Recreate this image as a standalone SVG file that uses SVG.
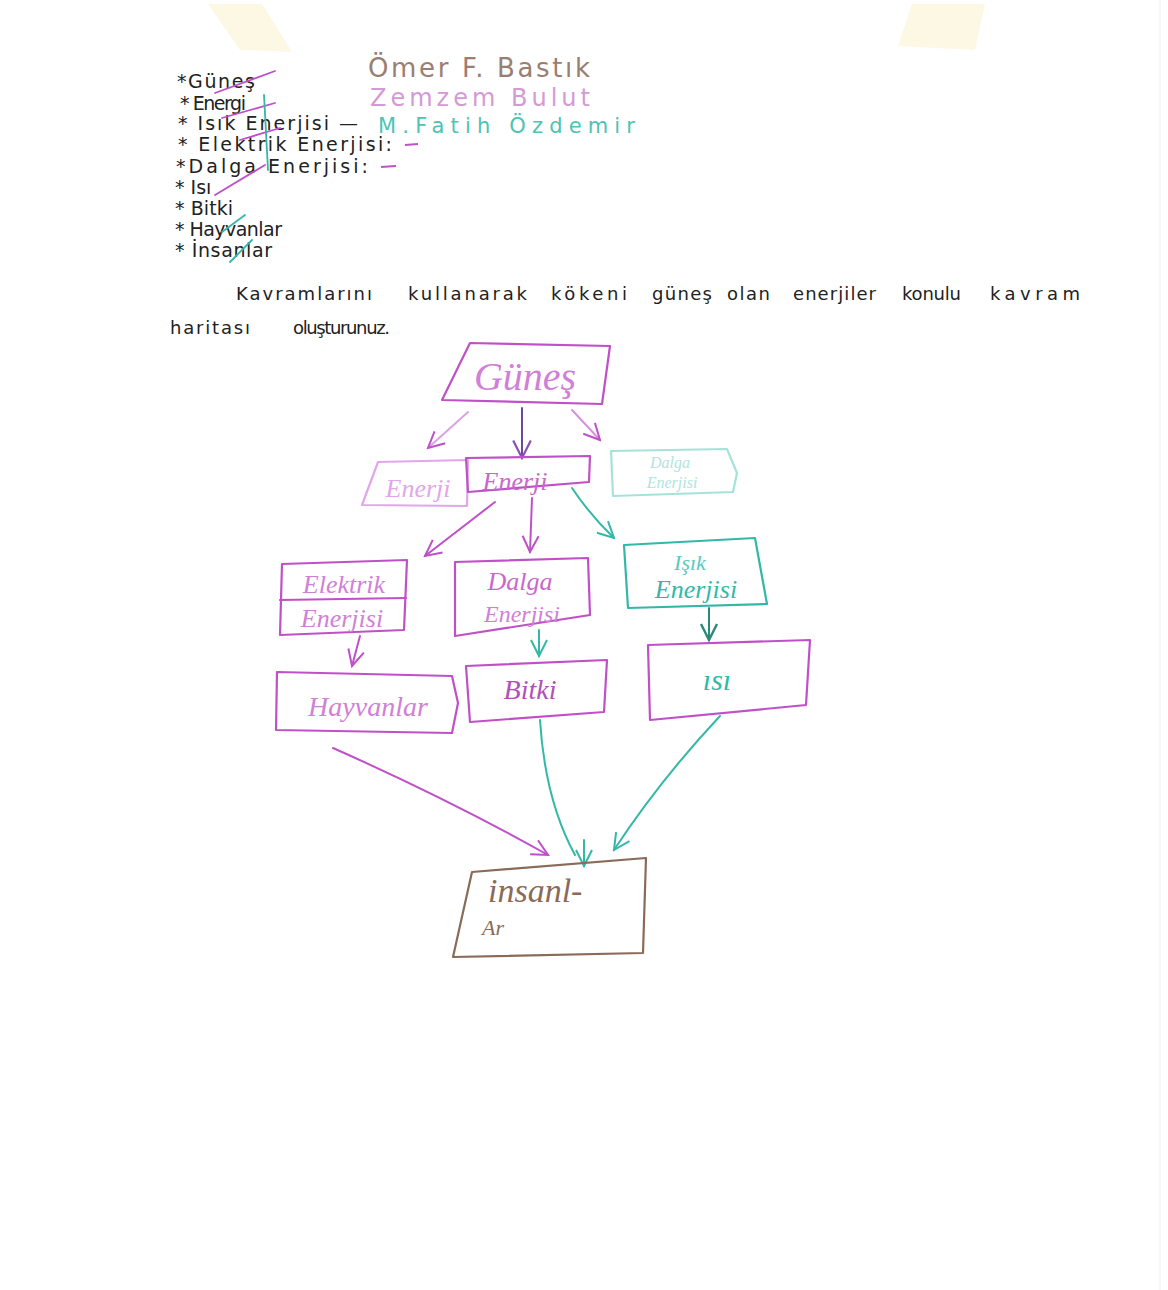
<svg xmlns="http://www.w3.org/2000/svg" width="1168" height="1290" viewBox="0 0 1168 1290">
<style>
.hw{font-family:"DejaVu Sans","Liberation Sans",sans-serif;fill:#222}
.list{font-size:19px}
.ins{font-size:18px}
.box{fill:none;stroke-width:2.2;stroke-linejoin:round;stroke-linecap:round}
.pk{stroke:#c050c8}
.pkf{stroke:#e2a6ea}
.tl{stroke:#33b8a8}
.tlf{stroke:#a6e2da}
.br{stroke:#8a6a58}
.lbl{font-family:"Liberation Serif","DejaVu Serif",serif;font-style:italic;text-anchor:middle}
.cn{fill:none;stroke-width:2;stroke-linecap:round}
</style>
<defs>
<marker id="aPk" viewBox="0 0 20 20" refX="18" refY="10" markerWidth="20" markerHeight="20" markerUnits="userSpaceOnUse" orient="auto"><path d="M2,2 L18,10 L2,18" fill="none" stroke="#c050c8" stroke-width="2"/></marker>
<marker id="aTl" viewBox="0 0 20 20" refX="18" refY="10" markerWidth="20" markerHeight="20" markerUnits="userSpaceOnUse" orient="auto"><path d="M2,2 L18,10 L2,18" fill="none" stroke="#33b8a8" stroke-width="2"/></marker>
<marker id="aDk" viewBox="0 0 20 20" refX="18" refY="10" markerWidth="22" markerHeight="22" markerUnits="userSpaceOnUse" orient="auto"><path d="M2,2 L18,10 L2,18" fill="none" stroke="#8a50b8" stroke-width="2"/></marker>
<marker id="aTd" viewBox="0 0 20 20" refX="18" refY="10" markerWidth="20" markerHeight="20" markerUnits="userSpaceOnUse" orient="auto"><path d="M2,2 L18,10 L2,18" fill="none" stroke="#2a8a78" stroke-width="2.4"/></marker>
</defs>
<rect width="1168" height="1290" fill="#ffffff"/>
<!-- tape pieces -->
<polygon points="208,4 262,4 292,52 240,50" fill="#fbf6dc" opacity="0.8"/>
<polygon points="912,4 985,4 975,50 898,46" fill="#fbf6dc" opacity="0.8"/>
<line x1="1160" y1="0" x2="1160" y2="1290" stroke="#eeeeee" stroke-width="1"/>

<!-- list -->
<g id="list">
<text class="hw list" x="177" y="88" textLength="78" lengthAdjust="spacing">*Güneş</text>
<text class="hw list" x="180" y="110" textLength="66" lengthAdjust="spacing">* Energi</text>
<text class="hw list" x="178" y="130" textLength="180" lengthAdjust="spacing">* Isık Enerjisi —</text>
<text class="hw list" x="178" y="151" textLength="214" lengthAdjust="spacing">* Elektrik Enerjisi:</text>
<text class="hw list" x="176" y="173" textLength="192" lengthAdjust="spacing">*Dalga Enerjisi:</text>
<text class="hw list" x="175" y="194">* Isı</text>
<text class="hw list" x="175" y="215" textLength="58" lengthAdjust="spacing">* Bitki</text>
<text class="hw list" x="175" y="236" textLength="107" lengthAdjust="spacing">* Hayvanlar</text>
<text class="hw list" x="175" y="257" textLength="97" lengthAdjust="spacing">* İnsanlar</text>
<path d="M405,145 L418,144" stroke="#c050c8" stroke-width="2" fill="none"/>
<path d="M381,167 L396,166" stroke="#c050c8" stroke-width="2" fill="none"/>
<g fill="none" stroke-width="1.8" stroke-linecap="round">
<path d="M215,93 L275,71" stroke="#c050c8"/>
<path d="M222,118 L275,103" stroke="#c050c8"/>
<path d="M240,140 L280,128" stroke="#c050c8"/>
<path d="M215,195 L265,165" stroke="#c050c8"/>
<path d="M264,95 L268,170" stroke="#33b8a8"/>
<path d="M222,232 L245,215" stroke="#33b8a8"/>
<path d="M230,262 L252,240" stroke="#33b8a8"/>
</g>
</g>

<!-- names -->
<g id="names" font-family="DejaVu Sans, Liberation Sans, sans-serif">
<text x="368" y="77" font-size="26" fill="#9a7e72" textLength="222" lengthAdjust="spacing">Ömer F. Bastık</text>
<text x="370" y="106" font-size="24" fill="#d49ad6" textLength="220" lengthAdjust="spacing">Zemzem Bulut</text>
<text x="378" y="133" font-size="21" fill="#4cc4b4" textLength="257" lengthAdjust="spacing">M.Fatih  Özdemir</text>
</g>

<!-- instruction -->
<g id="instruction" class="hw ins">
<text x="236" y="300" textLength="136" lengthAdjust="spacing">Kavramlarını</text>
<text x="408" y="300" textLength="119" lengthAdjust="spacing">kullanarak</text>
<text x="551" y="300" textLength="76" lengthAdjust="spacing">kökeni</text>
<text x="652" y="300" textLength="60" lengthAdjust="spacing">güneş</text>
<text x="727" y="300" textLength="43" lengthAdjust="spacing">olan</text>
<text x="793" y="300" textLength="83" lengthAdjust="spacing">enerjiler</text>
<text x="902" y="300" textLength="59" lengthAdjust="spacing">konulu</text>
<text x="990" y="300" textLength="90" lengthAdjust="spacing">kavram</text>
<text x="170" y="334" textLength="80" lengthAdjust="spacing">haritası</text>
<text x="293" y="334" textLength="97" lengthAdjust="spacing">oluşturunuz.</text>
</g>

<!-- connectors -->
<g id="connectors">
<path class="cn" d="M468,412 L428,448" stroke="#e0a0e6" marker-end="url(#aPk)"/>
<path class="cn" d="M522,408 L522,458" stroke="#6a4aa0" marker-end="url(#aDk)"/>
<path class="cn" d="M572,410 L600,440" stroke="#d890de" marker-end="url(#aPk)"/>
<path class="cn" d="M495,502 L425,556" stroke="#c050c8" marker-end="url(#aPk)"/>
<path class="cn" d="M532,498 L530,552" stroke="#c050c8" marker-end="url(#aPk)"/>
<path class="cn" d="M572,488 Q590,515 614,538" stroke="#33b8a8" marker-end="url(#aTl)"/>
<path class="cn" d="M360,636 L352,666" stroke="#c050c8" marker-end="url(#aPk)"/>
<path class="cn" d="M539,630 L539,656" stroke="#33b8a8" marker-end="url(#aTl)"/>
<path class="cn" d="M709,608 L709,640" stroke="#2a8a78" marker-end="url(#aTd)"/>
<path class="cn" d="M333,748 Q450,800 548,855" stroke="#c050c8" marker-end="url(#aPk)"/>
<path class="cn" d="M540,720 Q545,800 575,855" stroke="#33b8a8"/>
<path class="cn" d="M584,840 L584,866" stroke="#33b8a8" marker-end="url(#aTl)"/>
<path class="cn" d="M720,716 Q660,780 614,850" stroke="#33b8a8" marker-end="url(#aTl)"/>
</g>

<!-- nodes -->
<g id="gunes">
<path class="box pk" d="M470,343 L610,346 L602,404 L442,400 Z"/>
<text class="lbl" x="525" y="390" font-size="40" fill="#d080d8">Güneş</text>
</g>
<g id="enerji1">
<path class="box pkf" d="M378,462 L468,460 L467,506 L362,505 Z"/>
<text class="lbl" x="418" y="497" font-size="26" fill="#e2a6ea">Enerji</text>
</g>
<g id="enerji2">
<path class="box pk" d="M466,458 L590,456 L589,482 L468,492 Z"/>
<text class="lbl" x="515" y="490" font-size="26" fill="#c868cc">Enerji</text>
</g>
<g id="dalga1">
<path class="box tlf" d="M611,451 L727,449 L737,473 L733,492 L613,496 Z"/>
<text class="lbl" x="670" y="468" font-size="16" fill="#b0e4de">Dalga</text>
<text class="lbl" x="672" y="488" font-size="16" fill="#b0e4de">Enerjisi</text>
</g>
<g id="elektrik">
<path class="box pk" d="M282,564 L407,560 L404,630 L280,635 Z"/>
<path class="box pk" d="M280,600 L406,598" stroke-width="1.4"/>
<text class="lbl" x="344" y="593" font-size="26" fill="#d080d8">Elektrik</text>
<text class="lbl" x="342" y="627" font-size="26" fill="#d080d8">Enerjisi</text>
</g>
<g id="dalga">
<path class="box pk" d="M455,562 L588,558 L590,615 L455,636 Z"/>
<text class="lbl" x="520" y="590" font-size="26" fill="#c868cc">Dalga</text>
<text class="lbl" x="522" y="622" font-size="24" fill="#d080d8">Enerjisi</text>
</g>
<g id="isik">
<path class="box tl" d="M624,545 L755,538 L767,604 L628,608 Z"/>
<text class="lbl" x="690" y="570" font-size="22" fill="#5ccabc">Işık</text>
<text class="lbl" x="696" y="598" font-size="26" fill="#33b8a8">Enerjisi</text>
</g>
<g id="hayvanlar">
<path class="box pk" d="M277,672 L452,676 L458,703 L452,733 L276,730 Z"/>
<text class="lbl" x="368" y="716" font-size="28" fill="#d080d8">Hayvanlar</text>
</g>
<g id="bitki">
<path class="box pk" d="M466,666 L607,660 L604,712 L470,722 Z"/>
<text class="lbl" x="530" y="699" font-size="28" fill="#b050bc">Bitki</text>
</g>
<g id="isi">
<path class="box pk" d="M648,645 L810,640 L806,705 L650,720 Z"/>
<text class="lbl" x="717" y="690" font-size="30" fill="#33b8a8">ısı</text>
</g>
<g id="insanlar">
<path class="box br" d="M472,872 L646,858 L643,953 L453,957 Z"/>
<text x="488" y="902" font-family="Liberation Serif, DejaVu Serif, serif" font-style="italic" font-size="34" fill="#8a6a58">insanl-</text>
<text x="482" y="935" font-family="Liberation Serif, DejaVu Serif, serif" font-style="italic" font-size="22" fill="#8a6a58">Ar</text>
</g>
</svg>
